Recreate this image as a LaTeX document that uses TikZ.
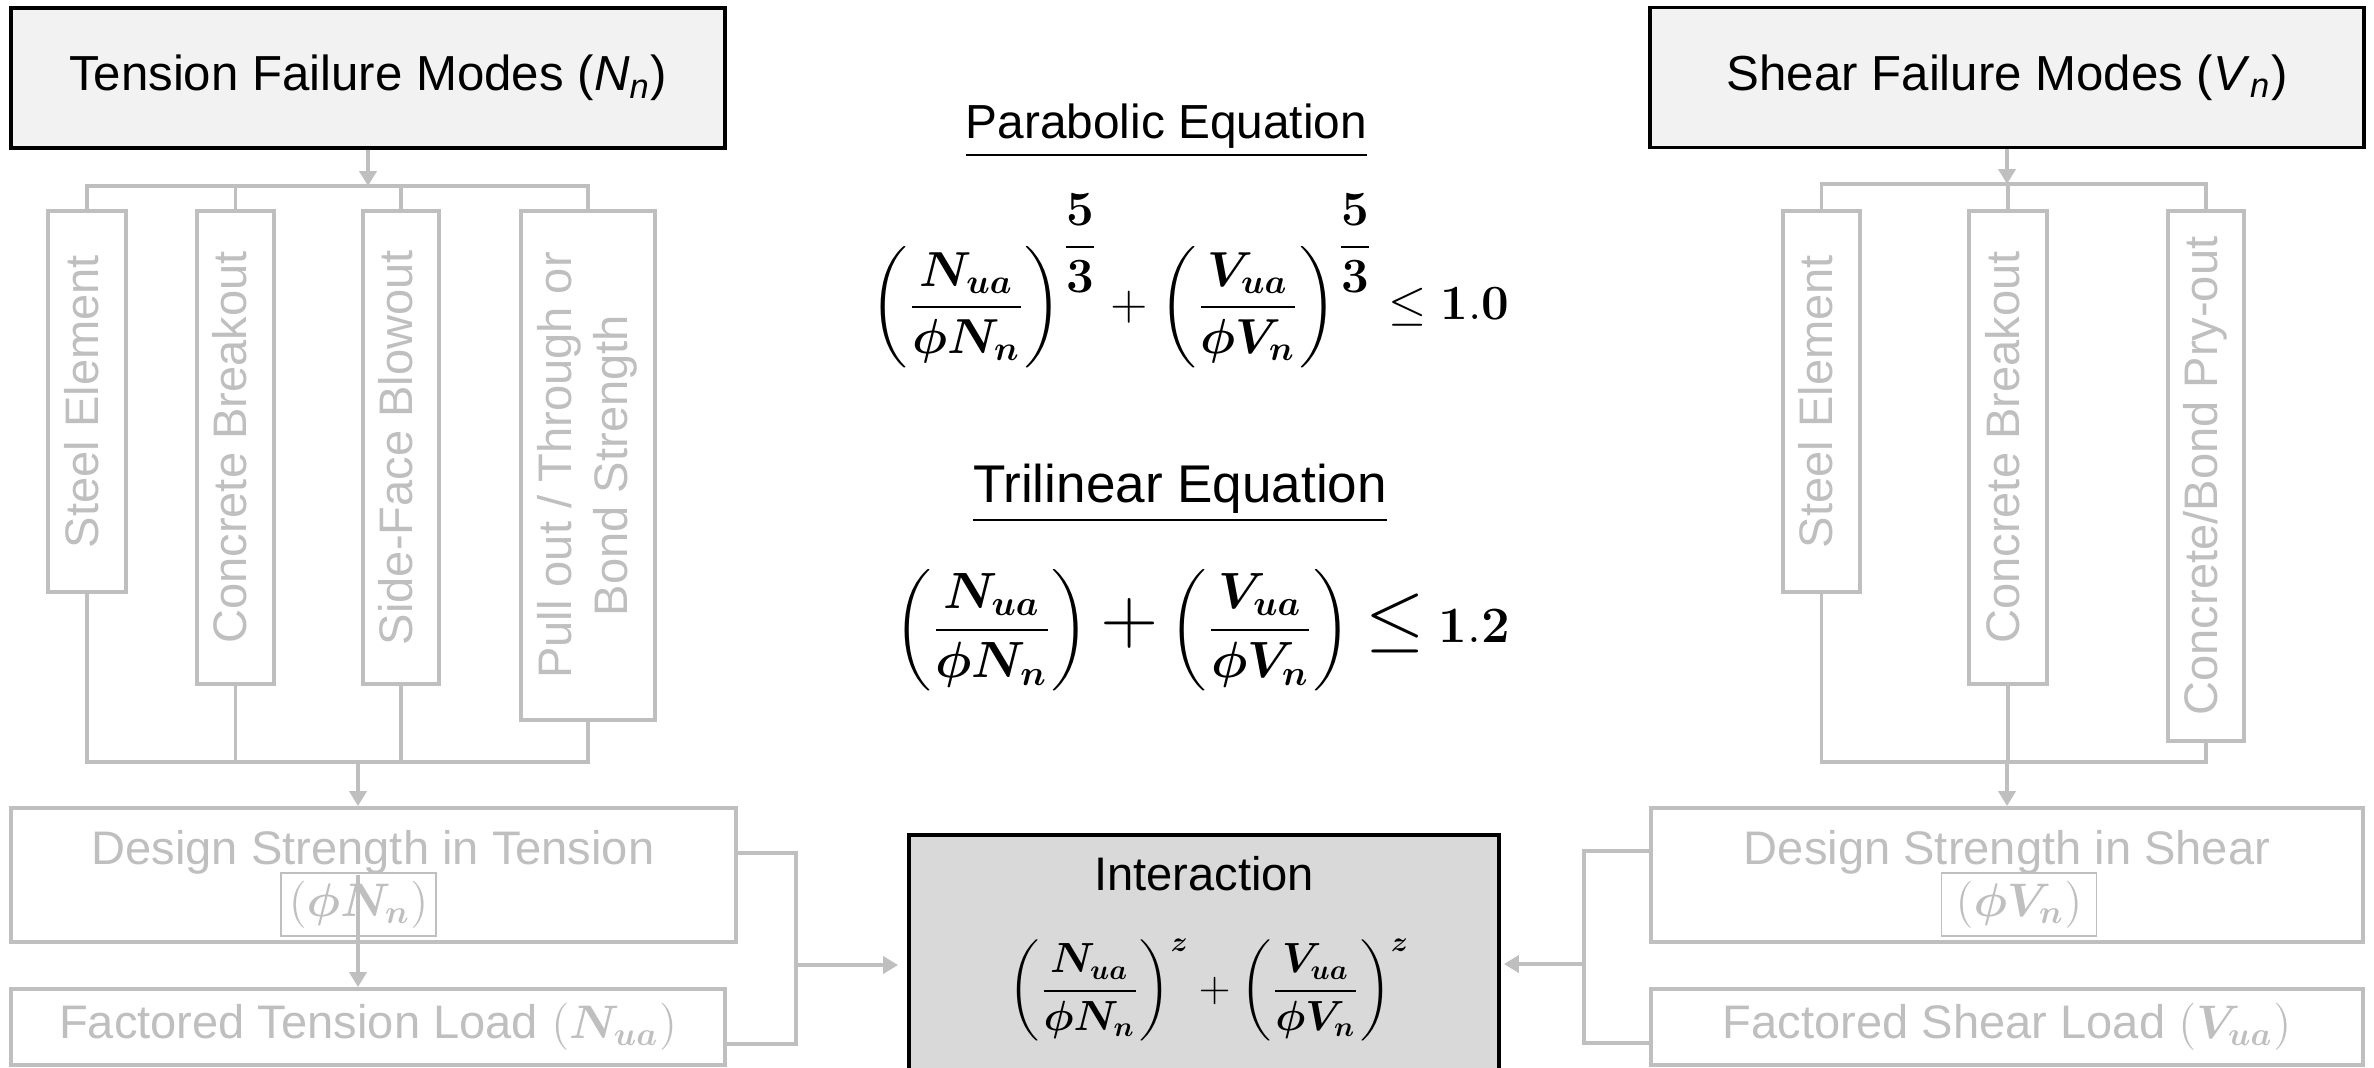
\RequirePackage{fix-cm}
\documentclass[tikz,border=0pt]{standalone}
\usepackage[no-math]{fontspec}
\setmainfont{Liberation Sans}
\usepackage{amsmath,bm}
\usetikzlibrary{arrows.meta,positioning}
\definecolor{faint}{HTML}{BFBFBF}
\definecolor{headfill}{HTML}{F2F2F2}
\definecolor{interfill}{HTML}{D9D9D9}
\newcommand{\vtext}[1]{\rotatebox{90}{\begin{tabular}{@{}c@{}}#1\end{tabular}}}
\newcommand{\ratioN}{\dfrac{\bm{N_{ua}}}{\bm{\phi N_n}}}
\newcommand{\ratioV}{\dfrac{\bm{V_{ua}}}{\bm{\phi V_n}}}

\begin{document}
\begin{tikzpicture}[
  font=\fontsize{13.4}{16}\selectfont, >={Triangle[length=1.5mm,width=1.7mm]}, line width=1.1pt,
  head/.style={draw=black, fill=headfill, minimum width=7.14cm, minimum height=1.4cm, inner sep=0pt,
               font=\fontsize{14}{17}\selectfont},
  mode/.style={draw=faint, text=faint, inner sep=0pt},
  gbox/.style={draw=faint, text=faint, inner sep=0pt, align=center},
  gtext/.style={text=faint, inner sep=0pt, anchor=base},
  phibox/.style={draw=faint, line width=0.4pt, text=faint, minimum width=1.55cm, minimum height=0.63cm, inner sep=0pt},
  title/.style={inner sep=0pt, anchor=base, font=\fontsize{13.6}{16}\selectfont},
  eqn/.style={inner sep=0pt},
  link/.style={draw=faint},
  arr/.style={->, draw=faint}]
\useasboundingbox (0,0) rectangle (23.74,-10.67);
% ---------- tension side
\node[head] (tfail) at (3.68,-0.78) {Tension Failure Modes (\textit{N}\textsubscript{\textit{n}})};
\node[mode, minimum width=0.78cm, minimum height=3.81cm] (tsteel) at (0.87,-4.015) {\vtext{Steel Element}};
\node[mode, minimum width=0.77cm, minimum height=4.73cm] (tconc) at (2.355,-4.475) {\vtext{Concrete Breakout}};
\node[mode, minimum width=0.76cm, minimum height=4.73cm] (tside) at (4.01,-4.475) {\vtext{Side-Face Blowout}};
\node[mode, minimum width=1.34cm, minimum height=5.09cm] (tpull) at (5.88,-4.655) {\vtext{Pull out / Through or\\Bond Strength}};
\node[gbox, minimum width=7.25cm, minimum height=1.34cm] (tdes) at (3.735,-8.75) {};
\node[gtext] (tdestxt) at (3.73,-8.64) {Design Strength in Tension};
\node[phibox] (tphi) at (3.585,-9.045) {$(\bm{\phi N_n})$};
\node[gbox, minimum width=7.14cm, minimum height=0.76cm] (tfac) at (3.68,-10.27) {Factored Tension Load $(\bm{N_{ua}})$};
% ---------- shear side
\node[head] (sfail) at (20.07,-0.775) {Shear Failure Modes (\textit{V}\textsubscript{\textit{n}})};
\node[mode, minimum width=0.77cm, minimum height=3.81cm] (ssteel) at (18.215,-4.015) {\vtext{Steel Element}};
\node[mode, minimum width=0.78cm, minimum height=4.73cm] (sconc) at (20.08,-4.475) {\vtext{Concrete Breakout}};
\node[mode, minimum width=0.76cm, minimum height=5.30cm] (spry) at (22.06,-4.76) {\vtext{Concrete/Bond Pry-out}};
\node[gbox, minimum width=7.12cm, minimum height=1.34cm] (sdes) at (20.07,-8.75) {};
\node[gtext] (sdestxt) at (20.07,-8.64) {Design Strength in Shear};
\node[phibox] (sphi) at (20.19,-9.045) {$(\bm{\phi V_n})$};
\node[gbox, minimum width=7.12cm, minimum height=0.76cm] (sfac) at (20.07,-10.27) {Factored Shear Load $(\bm{V_{ua}})$};
% ---------- equations
\node[title] (partitle) at (11.665,-1.38) {\underline{Parabolic Equation}};
\node[eqn, font=\fontsize{14}{17}\selectfont] (pareq) at (11.90,-2.81)
  {$\left(\ratioN\right)^{\dfrac{\mathbf{5}}{\mathbf{3}}} + \left(\ratioV\right)^{\dfrac{\mathbf{5}}{\mathbf{3}}} \leq \mathbf{1.0}$};
\node[title, font=\fontsize{15.1}{18}\selectfont] (tritle) at (11.80,-5.02) {\underline{Trilinear Equation}};
\node[eqn, font=\fontsize{14.5}{17}\selectfont] (trieq) at (12.02,-6.30)
  {$\left(\ratioN\right) \mathbin{\scalebox{1.5}{$+$}} \left(\ratioV\right) \mathrel{\scalebox{1.5}{$\leq$}} \mathbf{1.2}$};
% ---------- interaction
\node[draw=black, fill=interfill, minimum width=5.90cm, minimum height=2.55cm, inner sep=0pt] (inter) at (12.04,-9.625) {};
\node[inner sep=0pt, anchor=base] (intlab) at (12.04,-8.90) {Interaction};
\node[eqn, font=\fontsize{12}{14}\selectfont] (inteq) at (12.09,-9.90)
  {$\left(\ratioN\right)^{\bm{z}} + \left(\ratioV\right)^{\bm{z}}$};
% ---------- tension connectors
\coordinate (ttop) at (3.68,-1.86);
\coordinate (tbot) at (3.58,-7.62);
\coordinate (tjoin) at (7.96,-9.65);
\draw[arr] (tfail) -- (ttop);
\draw[link] (tsteel.north) |- (ttop) -| (tpull.north);
\foreach \m in {tconc,tside} \draw[link] (\m.north) -- (\m.north |- ttop);
\draw[link] (tsteel.south) |- (tbot) -| (tpull.south);
\foreach \m in {tconc,tside} \draw[link] (\m.south) -- (\m.south |- tbot);
\draw[arr] (tbot) -- (tbot |- tdes.north);
\draw[arr] (tbot |- tdes.center) -- (tbot |- tfac.north);
\draw[link] ([yshift=2.2mm]tdes.east) -| (tjoin) |- ([yshift=-1.7mm]tfac.east);
\draw[arr, shorten >=0.9mm] (tjoin) -- (tjoin -| inter.west);
% ---------- shear connectors
\coordinate (stop) at (20.07,-1.84);
\coordinate (sbot) at (20.07,-7.62);
\coordinate (sjoin) at (15.84,-9.64);
\draw[arr] (sfail) -- (stop);
\draw[link] (ssteel.north) |- (stop) -| (spry.north);
\draw[link] (sconc.north) -- (sconc.north |- stop);
\draw[link] (ssteel.south) |- (sbot) -| (spry.south);
\draw[link] (sconc.south) -- (sconc.south |- sbot);
\draw[arr] (sbot) -- (sbot |- sdes.north);
\draw[link] ([yshift=2.4mm]sdes.west) -| (sjoin) |- ([yshift=-1.6mm]sfac.west);
\draw[arr, shorten >=0.3mm] (sjoin) -- (sjoin -| inter.east);
\end{tikzpicture}
\end{document}
